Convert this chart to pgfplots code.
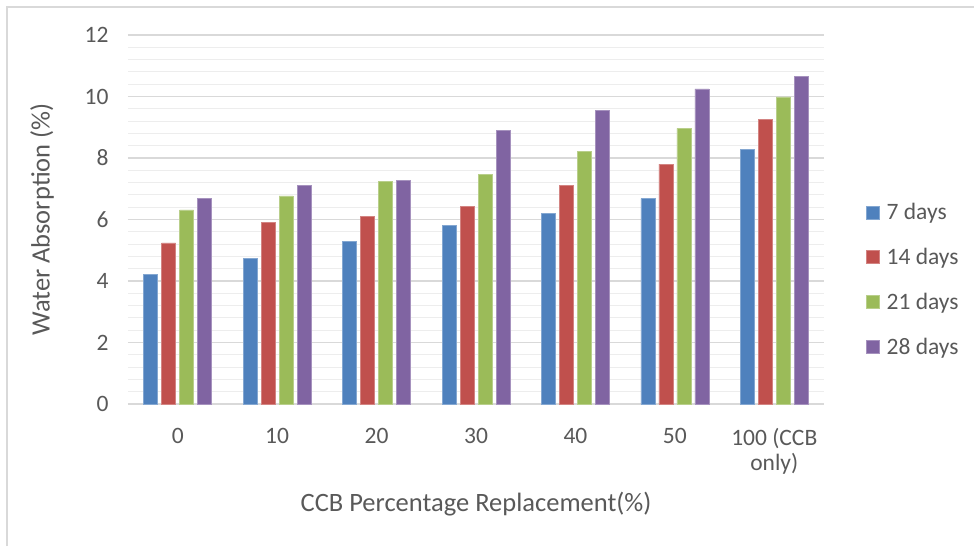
\documentclass[border=0pt]{standalone}
\usepackage{pgfplots}
\pgfplotsset{compat=1.18}
\usepackage{fontspec}
\setmainfont{Carlito}

\definecolor{txtgray}{HTML}{595959}
\definecolor{majgrid}{HTML}{D9D9D9}
\definecolor{mingrid}{HTML}{EDEDED}
\definecolor{frame}{HTML}{D9D9D9}
\definecolor{sblue}{HTML}{4F81BD}
\definecolor{sred}{HTML}{C0504D}
\definecolor{sgreen}{HTML}{9BBB59}
\definecolor{spurple}{HTML}{8064A2}

\begin{document}
\begin{tikzpicture}[x=1pt,y=1pt]
% page extent and chart frame
\useasboundingbox (-128,-142) rectangle (846,404);
\draw[frame, line width=1.3pt] (-121,-142) -- (-121,397) -- (846,397);

\begin{axis}[
  at={(0,0)}, anchor=south west,
  scale only axis,
  width=696pt, height=369pt,
  xmin=-0.5, xmax=6.5,
  ymin=0, ymax=12,
  ybar=4pt, bar width=14pt,
  xtick={0,1,2,3,4,5,6},
  xticklabels={0,10,20,30,40,50,{100 (CCB\\only)}},
  xticklabel style={align=center, text=txtgray, font=\fontsize{23.5}{25}\selectfont, anchor=north, yshift=-21pt},
  ytick={0,2,4,6,8,10,12},
  minor ytick={0.4,0.8,...,11.7},
  yticklabel style={text=txtgray, font=\fontsize{23.5}{28}\selectfont, anchor=east, xshift=-16pt},
  /pgf/number format/assume math mode=true,
  major tick length=0pt, minor tick length=0pt,
  ymajorgrids, yminorgrids,
  major grid style={majgrid, line width=1.3pt},
  minor grid style={mingrid, line width=1.1pt},
  axis line style={draw=none},
  axis x line*=bottom,
  axis y line*=left,
  xlabel={CCB Percentage Replacement(\%)},
  ylabel={Water Absorption (\%)},
  xlabel style={text=txtgray, font=\fontsize{26.5}{30}\selectfont, at={(axis description cs:0.5,0)}, anchor=center, yshift=-100pt},
  ylabel style={text=txtgray, font=\fontsize{26.5}{30}\selectfont, at={(axis description cs:0,0.5)}, anchor=center, yshift=86pt},
  legend style={at={(1.0603,0.337)}, anchor=west, draw=none, fill=none,
    font=\fontsize{23.5}{28}\selectfont, text=txtgray,
    row sep=23pt, inner sep=0pt, cells={anchor=west}},
  legend image code/.code={\fill (0pt,-6.5pt) rectangle (13pt,6.5pt); \path (18pt,0pt);},
]
\draw[majgrid, line width=1.5pt] (axis cs:-0.5,0) -- (axis cs:6.5,0);

\addplot[fill=sblue, draw=sblue!70!white, line width=0.5pt] coordinates
  {(0,4.22) (1,4.73) (2,5.29) (3,5.80) (4,6.21) (5,6.68) (6,8.29)};
\addplot[fill=sred, draw=sred!70!white, line width=0.5pt] coordinates
  {(0,5.24) (1,5.91) (2,6.09) (3,6.42) (4,7.11) (5,7.80) (6,9.26)};
\addplot[fill=sgreen, draw=sgreen!70!white, line width=0.5pt] coordinates
  {(0,6.31) (1,6.77) (2,7.23) (3,7.47) (4,8.21) (5,8.96) (6,9.99)};
\addplot[fill=spurple, draw=spurple!70!white, line width=0.5pt] coordinates
  {(0,6.69) (1,7.10) (2,7.28) (3,8.89) (4,9.55) (5,10.25) (6,10.66)};
\legend{7 days, 14 days, 21 days, 28 days}
\end{axis}
\end{tikzpicture}
\end{document}
